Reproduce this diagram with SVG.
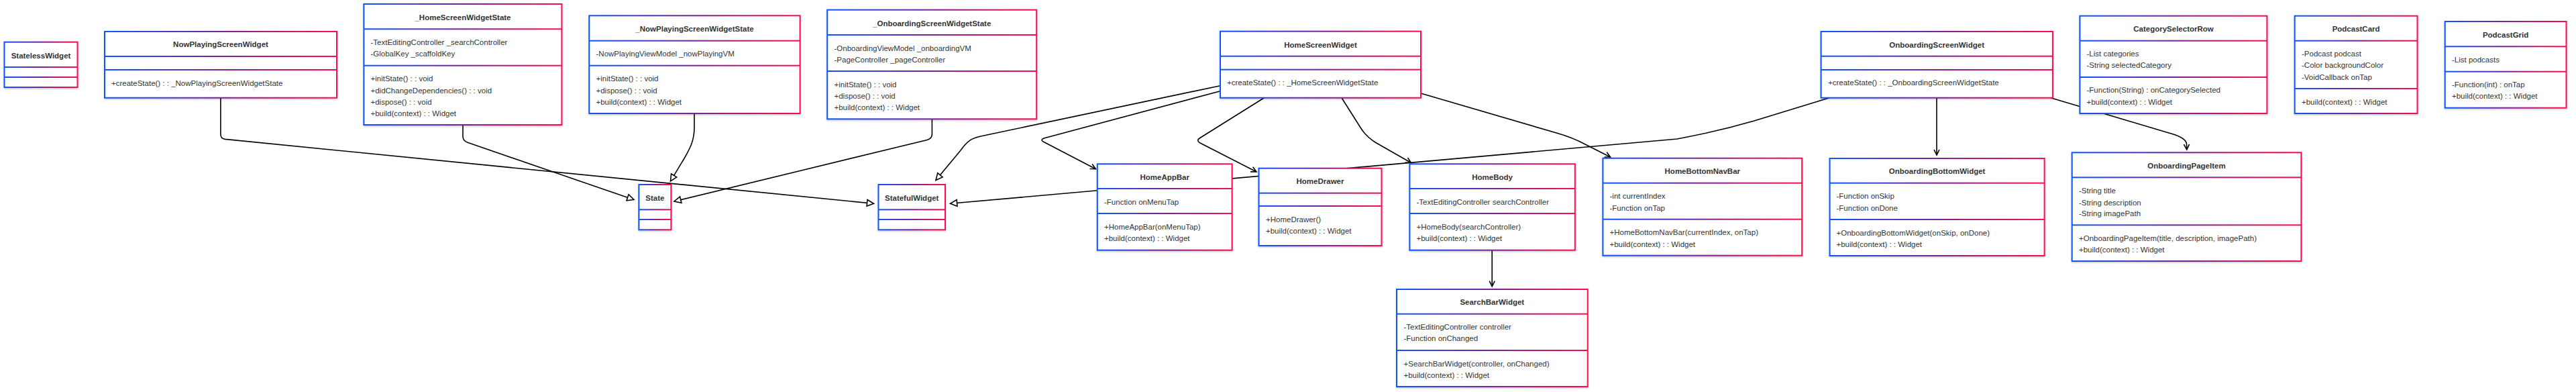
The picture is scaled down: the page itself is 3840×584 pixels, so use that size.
<svg xmlns="http://www.w3.org/2000/svg" width="3840" height="584" viewBox="0 0 3840 584">
<defs>
<linearGradient id="g" x1="0" y1="0" x2="1" y2="0">
<stop offset="0" stop-color="#0d55ff"/><stop offset="0.5" stop-color="#7a2596"/><stop offset="1" stop-color="#ff0b4c"/>
</linearGradient>
<filter id="sh" x="-5%" y="-5%" width="110%" height="115%">
<feDropShadow dx="0" dy="1.5" stdDeviation="1" flood-color="#000" flood-opacity="0.22"/>
</filter>
<marker id="tri" markerUnits="userSpaceOnUse" markerWidth="14" markerHeight="14" viewBox="0 0 14 14" refX="12" refY="7" orient="auto">
<path d="M2,2.2 L12,7 L2,11.8 Z" fill="#fff" stroke="#000" stroke-width="1.6"/>
</marker>
<marker id="vee" markerUnits="userSpaceOnUse" markerWidth="12" markerHeight="12" viewBox="0 0 12 12" refX="10" refY="6" orient="auto">
<path d="M2,2 L10,6 L2,10" fill="none" stroke="#000" stroke-width="1.6"/>
</marker>
</defs>
<style>
.box{fill:#fff;stroke:url(#g);stroke-width:2;filter:url(#sh)}
.dv{fill:url(#g)}
text{font-family:"Liberation Sans",Arial,sans-serif;font-size:11.5px;fill:#333}
.t{font-weight:bold;text-anchor:middle}
.e{fill:none;stroke:#000;stroke-width:1.6}
.ei{marker-end:url(#tri)}
.ea{marker-end:url(#vee)}
</style>
<rect width="3840" height="584" fill="#fff"/>
<g id="connectors">
<path class="e ei" d="M328.9,145.7 L328.9,200 Q328.9,206.5 335.5,207.4 L1302.5,303.3"/>
<path class="e ei" d="M690,186 L690,203 Q690,210 697,212.3 L945,297.5"/>
<path class="e ei" d="M1035,169 L1035,190 C1035,210 1028,222 1020,236 L999.5,270"/>
<path class="e ei" d="M1389.4,177.3 L1389.4,200 Q1389.4,206 1382,208.5 L1005,300"/>
<path class="e ei" d="M1819,127.7 L1462,203 C1448,206 1442,210 1432,224 L1395,268.5"/>
<path class="e ea" d="M1819,135.7 L1556,206 Q1550,208.5 1556,211.5 L1633.4,251.7"/>
<path class="e ea" d="M1884.4,145.7 L1788,206 Q1783,209.5 1789,213 L1873,256"/>
<path class="e ea" d="M2000,145.7 L2028,190 Q2036,203 2050,212 L2103.5,242.5"/>
<path class="e ea" d="M2118,139 L2320,198 Q2345,205 2365,216 L2400.5,234"/>
<path class="e ea" d="M2224.2,372.7 L2224.2,426.7"/>
<path class="e ei" d="M2727,145.7 L2615,180 Q2560,196 2500,207 L1416.6,303.3"/>
<path class="e ea" d="M2887,145.7 L2887,231"/>
<path class="e ea" d="M3057,145.7 L3238,199.5 Q3258,205.5 3259.5,214 L3259.8,223"/>
</g>
<g id="StatelessWidget">
<rect class="box" x="6.5" y="62.7" width="109" height="67.3"/>
<rect class="dv" x="6.5" y="99" width="109" height="2"/><rect class="dv" x="6.5" y="114" width="109" height="2"/>
<text class="t" x="61" y="87">StatelessWidget</text>
</g>
<g id="NowPlayingScreenWidget">
<rect class="box" x="156" y="47" width="346" height="98.7"/>
<rect class="dv" x="156" y="83" width="346" height="2"/><rect class="dv" x="156" y="103" width="346" height="2"/>
<text class="t" x="329" y="70">NowPlayingScreenWidget</text>
<text x="166" y="127.5">+createState() : : _NowPlayingScreenWidgetState</text>
</g>
<g id="_HomeScreenWidgetState">
<rect class="box" x="542.4" y="6" width="295" height="180"/>
<rect class="dv" x="542.4" y="42.3" width="295" height="2"/><rect class="dv" x="542.4" y="96.7" width="295" height="2"/>
<text class="t" x="690" y="29.5">_HomeScreenWidgetState</text>
<text x="552.5" y="66.5">-TextEditingController _searchController</text>
<text x="552.5" y="84">-GlobalKey _scaffoldKey</text>
<text x="552.5" y="121.3">+initState() : : void</text>
<text x="552.5" y="138.5">+didChangeDependencies() : : void</text>
<text x="552.5" y="156">+dispose() : : void</text>
<text x="552.5" y="173.3">+build(context) : : Widget</text>
</g>
<g id="_NowPlayingScreenWidgetState">
<rect class="box" x="878.3" y="23.3" width="314.3" height="145.7"/>
<rect class="dv" x="878.3" y="59.7" width="314.3" height="2"/><rect class="dv" x="878.3" y="96.7" width="314.3" height="2"/>
<text class="t" x="1035.5" y="47">_NowPlayingScreenWidgetState</text>
<text x="888.5" y="84">-NowPlayingViewModel _nowPlayingVM</text>
<text x="888.5" y="121.3">+initState() : : void</text>
<text x="888.5" y="138.5">+dispose() : : void</text>
<text x="888.5" y="156">+build(context) : : Widget</text>
</g>
<g id="_OnboardingScreenWidgetState">
<rect class="box" x="1233.2" y="14.7" width="312" height="162.6"/>
<rect class="dv" x="1233.2" y="51" width="312" height="2"/><rect class="dv" x="1233.2" y="105" width="312" height="2"/>
<text class="t" x="1389.2" y="38.5">_OnboardingScreenWidgetState</text>
<text x="1243.5" y="76">-OnboardingViewModel _onboardingVM</text>
<text x="1243.5" y="93.3">-PageController _pageController</text>
<text x="1243.5" y="130">+initState() : : void</text>
<text x="1243.5" y="147.3">+dispose() : : void</text>
<text x="1243.5" y="164.3">+build(context) : : Widget</text>
</g>
<g id="HomeScreenWidget">
<rect class="box" x="1819" y="46.7" width="299" height="99"/>
<rect class="dv" x="1819" y="82.7" width="299" height="2"/><rect class="dv" x="1819" y="102.7" width="299" height="2"/>
<text class="t" x="1968.5" y="70.5">HomeScreenWidget</text>
<text x="1829" y="127.3">+createState() : : _HomeScreenWidgetState</text>
</g>
<g id="OnboardingScreenWidget">
<rect class="box" x="2714.6" y="47" width="345.3" height="98.7"/>
<rect class="dv" x="2714.6" y="82.7" width="345.3" height="2"/><rect class="dv" x="2714.6" y="103" width="345.3" height="2"/>
<text class="t" x="2887.2" y="70.8">OnboardingScreenWidget</text>
<text x="2725" y="127.3">+createState() : : _OnboardingScreenWidgetState</text>
</g>
<g id="CategorySelectorRow">
<rect class="box" x="3100.4" y="23.7" width="279" height="145.3"/>
<rect class="dv" x="3100.4" y="59.7" width="279" height="2"/><rect class="dv" x="3100.4" y="114" width="279" height="2"/>
<text class="t" x="3240" y="47">CategorySelectorRow</text>
<text x="3110.5" y="84">-List categories</text>
<text x="3110.5" y="101.3">-String selectedCategory</text>
<text x="3110.5" y="138.3">-Function(String) : onCategorySelected</text>
<text x="3110.5" y="156.3">+build(context) : : Widget</text>
</g>
<g id="PodcastCard">
<rect class="box" x="3420.7" y="23.7" width="182.8" height="145.3"/>
<rect class="dv" x="3420.7" y="59.7" width="182.8" height="2"/><rect class="dv" x="3420.7" y="131" width="182.8" height="2"/>
<text class="t" x="3512.1" y="47">PodcastCard</text>
<text x="3431" y="84">-Podcast podcast</text>
<text x="3431" y="101.3">-Color backgroundColor</text>
<text x="3431" y="119.3">-VoidCallback onTap</text>
<text x="3431" y="156.3">+build(context) : : Widget</text>
</g>
<g id="PodcastGrid">
<rect class="box" x="3644.7" y="32" width="180.8" height="128.7"/>
<rect class="dv" x="3644.7" y="68.3" width="180.8" height="2"/><rect class="dv" x="3644.7" y="105.7" width="180.8" height="2"/>
<text class="t" x="3735.1" y="55.5">PodcastGrid</text>
<text x="3655" y="93.3">-List podcasts</text>
<text x="3655" y="130">-Function(int) : onTap</text>
<text x="3655" y="147.3">+build(context) : : Widget</text>
</g>
<g id="State">
<rect class="box" x="952.4" y="275" width="48" height="67.3"/>
<rect class="dv" x="952.4" y="311.3" width="48" height="2"/><rect class="dv" x="952.4" y="326" width="48" height="2"/>
<text class="t" x="976.4" y="299.3">State</text>
</g>
<g id="StatefulWidget">
<rect class="box" x="1309.5" y="275" width="99.5" height="67.3"/>
<rect class="dv" x="1309.5" y="311.3" width="99.5" height="2"/><rect class="dv" x="1309.5" y="326" width="99.5" height="2"/>
<text class="t" x="1359.2" y="299.3">StatefulWidget</text>
</g>
<g id="HomeAppBar">
<rect class="box" x="1635.8" y="244.3" width="200.8" height="128.4"/>
<rect class="dv" x="1635.8" y="280" width="200.8" height="2"/><rect class="dv" x="1635.8" y="317" width="200.8" height="2"/>
<text class="t" x="1736.2" y="268">HomeAppBar</text>
<text x="1646" y="305.3">-Function onMenuTap</text>
<text x="1646" y="342.3">+HomeAppBar(onMenuTap)</text>
<text x="1646" y="359.3">+build(context) : : Widget</text>
</g>
<g id="HomeDrawer">
<rect class="box" x="1876.5" y="250.7" width="183" height="115.3"/>
<rect class="dv" x="1876.5" y="286.7" width="183" height="2"/><rect class="dv" x="1876.5" y="306" width="183" height="2"/>
<text class="t" x="1968" y="274">HomeDrawer</text>
<text x="1887" y="331">+HomeDrawer()</text>
<text x="1887" y="348.3">+build(context) : : Widget</text>
</g>
<g id="HomeBody">
<rect class="box" x="2101.4" y="244.3" width="246.4" height="128.4"/>
<rect class="dv" x="2101.4" y="280" width="246.4" height="2"/><rect class="dv" x="2101.4" y="317" width="246.4" height="2"/>
<text class="t" x="2224.6" y="268">HomeBody</text>
<text x="2111.5" y="305.3">-TextEditingController searchController</text>
<text x="2111.5" y="342.3">+HomeBody(searchController)</text>
<text x="2111.5" y="359.3">+build(context) : : Widget</text>
</g>
<g id="HomeBottomNavBar">
<rect class="box" x="2389.4" y="235.7" width="296.8" height="145"/>
<rect class="dv" x="2389.4" y="271.7" width="296.8" height="2"/><rect class="dv" x="2389.4" y="325.7" width="296.8" height="2"/>
<text class="t" x="2537.8" y="259.3">HomeBottomNavBar</text>
<text x="2399.5" y="296.3">-int currentIndex</text>
<text x="2399.5" y="314">-Function onTap</text>
<text x="2399.5" y="350">+HomeBottomNavBar(currentIndex, onTap)</text>
<text x="2399.5" y="368">+build(context) : : Widget</text>
</g>
<g id="OnboardingBottomWidget">
<rect class="box" x="2727.6" y="236" width="320" height="145"/>
<rect class="dv" x="2727.6" y="271.7" width="320" height="2"/><rect class="dv" x="2727.6" y="326" width="320" height="2"/>
<text class="t" x="2887.6" y="259.3">OnboardingBottomWidget</text>
<text x="2737.5" y="296.3">-Function onSkip</text>
<text x="2737.5" y="314.3">-Function onDone</text>
<text x="2737.5" y="350.7">+OnboardingBottomWidget(onSkip, onDone)</text>
<text x="2737.5" y="368">+build(context) : : Widget</text>
</g>
<g id="OnboardingPageItem">
<rect class="box" x="3088.7" y="227.3" width="341.7" height="161.7"/>
<rect class="dv" x="3088.7" y="263.3" width="341.7" height="2"/><rect class="dv" x="3088.7" y="334.3" width="341.7" height="2"/>
<text class="t" x="3259.5" y="251.3">OnboardingPageItem</text>
<text x="3099" y="288.3">-String title</text>
<text x="3099" y="305.7">-String description</text>
<text x="3099" y="322.3">-String imagePath</text>
<text x="3099" y="359">+OnboardingPageItem(title, description, imagePath)</text>
<text x="3099" y="376.3">+build(context) : : Widget</text>
</g>
<g id="SearchBarWidget">
<rect class="box" x="2082" y="431" width="284.7" height="145"/>
<rect class="dv" x="2082" y="466.7" width="284.7" height="2"/><rect class="dv" x="2082" y="521" width="284.7" height="2"/>
<text class="t" x="2224.3" y="454">SearchBarWidget</text>
<text x="2092.5" y="491.3">-TextEditingController controller</text>
<text x="2092.5" y="508.3">-Function onChanged</text>
<text x="2092.5" y="545.7">+SearchBarWidget(controller, onChanged)</text>
<text x="2092.5" y="563.3">+build(context) : : Widget</text>
</g>
</svg>
